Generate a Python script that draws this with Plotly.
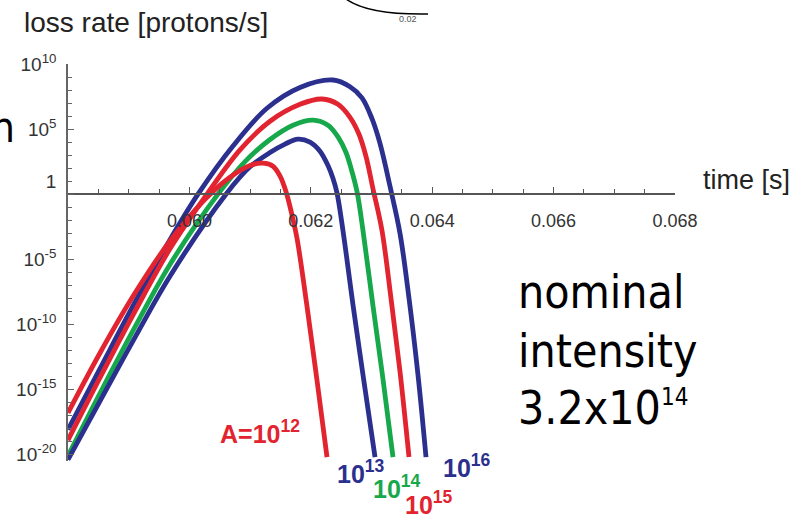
import plotly.graph_objects as go

# ---------------- data ----------------
# time [s] and log10(loss rate [protons/s]) for each value of A
t_A16 = [0.058000, 0.058527, 0.059104, 0.059680, 0.060142, 0.060718, 0.061278, 0.061822, 0.062366,
         0.062646, 0.062843, 0.063008, 0.063140, 0.063305, 0.063469, 0.063618, 0.063766, 0.063898]
e_A16 = [-18.1, -13.4, -8.3, -3.5, 0.0, 3.7, 6.6, 8.2, 8.77,
         8.25, 7.4, 5.8, 3.9, 0.6, -3.0, -8.0, -13.9, -20.2]

t_A15 = [0.058000, 0.058527, 0.059104, 0.059680, 0.060290, 0.060834, 0.061328, 0.061822, 0.062184,
         0.062448, 0.062646, 0.062794, 0.062909, 0.063025, 0.063173, 0.063321, 0.063469, 0.063618]
e_A15 = [-18.9, -14.1, -9.0, -4.2, 0.0, 3.4, 5.6, 6.9, 7.31,
         6.9, 5.9, 4.6, 2.9, 0.4, -2.8, -8.0, -13.6, -20.2]

t_A14 = [0.058000, 0.058527, 0.059104, 0.059680, 0.060471, 0.060916, 0.061328, 0.061707, 0.062036,
         0.062283, 0.062448, 0.062580, 0.062662, 0.062761, 0.062860, 0.063025, 0.063189, 0.063354]
e_A14 = [-20.1, -15.3, -10.2, -5.4, 0.0, 2.5, 4.2, 5.3, 5.69,
         5.3, 4.4, 3.2, 2.0, 0.2, -2.8, -8.6, -14.2, -20.2]

t_A13 = [0.058000, 0.058527, 0.059104, 0.059680, 0.060603, 0.060998, 0.061328, 0.061575, 0.061789,
         0.061987, 0.062151, 0.062283, 0.062366, 0.062431, 0.062530, 0.062695, 0.062876, 0.063058]
e_A13 = [-20.4, -15.9, -11.0, -6.3, 0.0, 2.1, 3.2, 3.85, 4.23,
         4.0, 3.3, 2.2, 1.2, 0.1, -2.8, -8.5, -14.4, -20.2]

t_A12 = [0.058000, 0.058527, 0.059104, 0.059680, 0.060257, 0.060669, 0.060998, 0.061212,
         0.061377, 0.061492, 0.061591, 0.061690, 0.061773, 0.061937, 0.062102, 0.062267]
e_A12 = [-16.8, -12.2, -7.6, -3.6, -0.4, 1.3, 2.2, 2.38,
         2.15, 1.4, 0.2, -1.6, -3.4, -8.6, -14.3, -20.2]

x_tickvals = [0.060, 0.062, 0.064, 0.066, 0.068]
x_ticktext = ["0.060", "0.062", "0.064", "0.066", "0.068"]
y_tick_exps = [10, 5, 0, -5, -10, -15, -20]
y_ticktext = ["10<sup>10</sup>", "10<sup>5</sup>", "1<br> ", "10<sup>-5</sup>",
              "10<sup>-10</sup>", "10<sup>-15</sup>", "10<sup>-20</sup>"]

NAVY = "#2b2f8e"
RED = "#e1242f"
GREEN = "#17a84b"

series = [
    (t_A16, e_A16, NAVY),
    (t_A15, e_A15, RED),
    (t_A14, e_A14, GREEN),
    (t_A13, e_A13, NAVY),
    (t_A12, e_A12, RED),
]

# ---------------- layout geometry ----------------
FW, FH = 805, 516
ML, MR, MT, MB = 68, 130, 64, 55
PW, PH = FW - ML - MR, FH - MT - MB
Y_LO, Y_HI = -20.5, 10.0


def px(x):
    return (x - ML) / PW


def py(y):
    return 1 - (y - MT) / PH


fig = go.Figure()
for t, e, c in series:
    fig.add_trace(go.Scatter(
        x=t, y=[10 ** v for v in e], mode="lines",
        line=dict(color=c, width=4.8, shape="spline", smoothing=1.0),
        showlegend=False, hoverinfo="skip"))

font_family = "Liberation Sans, Arial, sans-serif"
y_font = dict(family=font_family, size=19, color="#333333")
x_font = dict(family=font_family, size=18, color="#333333")

fig.update_layout(
    width=FW, height=FH,
    margin=dict(l=ML, r=MR, t=MT, b=MB),
    paper_bgcolor="white", plot_bgcolor="white",
    xaxis=dict(
        range=[0.058, 0.068], showgrid=False, zeroline=False,
        showline=True, linecolor="#555555", linewidth=1.5,
        anchor="free", position=(0 - Y_LO) / (Y_HI - Y_LO),
        ticks="inside", ticklen=6, tickwidth=1, tickcolor="#555555",
        tickvals=x_tickvals, ticktext=x_ticktext, tickfont=x_font,
        ticklabelstandoff=10,
        minor=dict(ticks="inside", ticklen=4, tickcolor="#555555", dtick=0.0005,
                   tick0=0.058, showgrid=False),
    ),
    yaxis=dict(
        type="log", range=[Y_LO, Y_HI], showgrid=False, zeroline=False,
        showline=True, linecolor="#666666", linewidth=1.5,
        ticks="inside", ticklen=6, tickwidth=1, tickcolor="#666666",
        tickvals=[10.0 ** k for k in y_tick_exps], ticktext=y_ticktext,
        tickfont=y_font, ticklabelstandoff=6,
        minor=dict(ticks="inside", ticklen=4, tickcolor="#666666",
                   tickvals=[10.0 ** k for k in range(-20, 11)], showgrid=False),
    ),
)

ann = []
# axis titles
ann.append(dict(x=px(22), y=py(22), xref="paper", yref="paper", xanchor="left", yanchor="middle",
                text="loss rate [protons/s]", showarrow=False,
                font=dict(family=font_family, size=28, color="#222222")))
ann.append(dict(x=px(701), y=py(180), xref="paper", yref="paper", xanchor="left", yanchor="middle",
                text="time [s]", showarrow=False,
                font=dict(family=font_family, size=27, color="#222222")))

# curve labels
for txt, x0, y0, c in [
    ("A=10<sup>12</sup>", 218, 432, RED),
    ("10<sup>13</sup>", 335, 472, NAVY),
    ("10<sup>14</sup>", 371, 487, GREEN),
    ("10<sup>15</sup>", 403, 503, RED),
    ("10<sup>16</sup>", 441, 466, NAVY),
]:
    ann.append(dict(x=px(x0), y=py(y0), xref="paper", yref="paper", xanchor="left",
                    yanchor="middle", text="<b>" + txt + "</b>", showarrow=False,
                    font=dict(family=font_family, size=25, color=c)))

# slide text
slide_font = "DejaVu Sans Condensed, Comic Sans MS, Noto Sans, sans-serif"
for txt, y0 in [("nominal", 292), ("intensity", 351),
                ("3.2x10<sup><span style='font-size:24px'>14</span></sup>", 408)]:
    ann.append(dict(x=px(516), y=py(y0), xref="paper", yref="paper", xanchor="left",
                    yanchor="middle", text=txt, showarrow=False,
                    font=dict(family=slide_font, size=46, color="black")))
ann.append(dict(x=px(17), y=py(128), xref="paper", yref="paper", xanchor="right",
                yanchor="middle", text="n", showarrow=False,
                font=dict(family=slide_font, size=42, color="black")))
ann.append(dict(x=px(408), y=py(19), xref="paper", yref="paper", xanchor="center",
                yanchor="middle", text="0.02", showarrow=False,
                font=dict(family=font_family, size=9, color="#555555")))

fig.update_layout(annotations=ann)

# fragment of a neighbouring plot at the top of the slide
fig.add_shape(type="path", xref="paper", yref="paper",
              path=f"M {px(346)},{py(-1)} Q {px(368)},{py(15)} {px(428)},{py(14)}",
              line=dict(color="black", width=1.5))

fig.write_html("out.html", config={"displayModeBar": False},
               post_script="document.body.style.margin='0px';")
